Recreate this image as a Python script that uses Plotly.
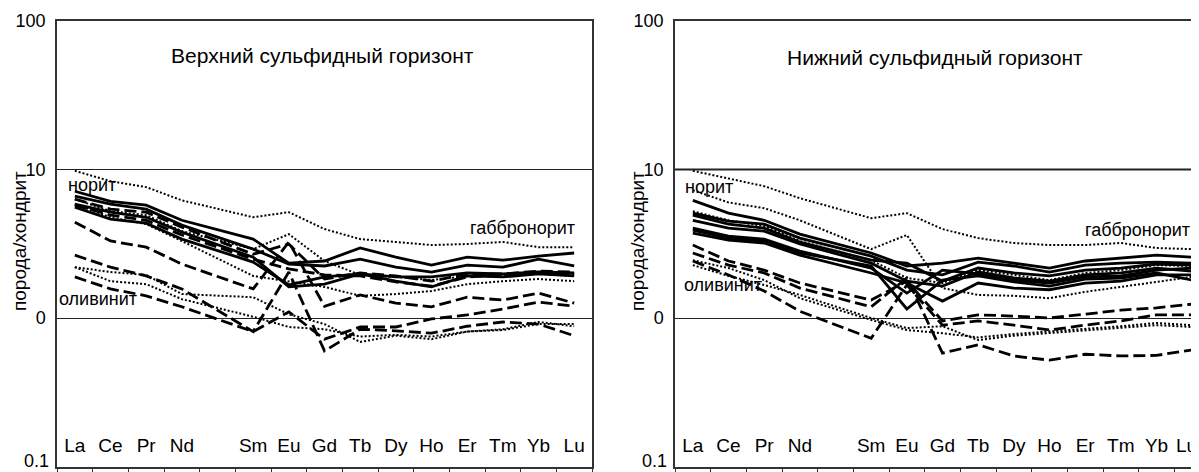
import math
import plotly.graph_objects as go

# ---------------- data ----------------
ree_order = ["La", "Ce", "Pr", "Nd", "Pm", "Sm", "Eu", "Gd", "Tb", "Dy", "Ho", "Er", "Tm", "Yb", "Lu"]
elements = ["La", "Ce", "Pr", "Nd", "Sm", "Eu", "Gd", "Tb", "Dy", "Ho", "Er", "Tm", "Yb", "Lu"]
y_tick_vals = [1, 10, 100]
y_tick_text = ["0", "10", "100"]
y_bottom_val = 0.1
y_bottom_text = "0.1"

title_upper = "Верхний сульфидный горизонт"
title_lower = "Нижний сульфидный горизонт"
y_title = "порода/хондрит"

# Upper sulfide horizon (left panel)
up_dot_1 = [9.8, 8.34, 7.61, 6.2, 4.77, 5.16, 3.97, 3.40, 3.25, 3.10, 3.15, 3.25, 3.0, 3.0]
up_dot_2 = [6.31, 5.24, 4.93, 3.85, 2.91, 3.67, 2.42, 1.95, 1.89, 1.80, 1.92, 1.95, 1.98, 1.92]
up_dot_3 = [5.84, 4.77, 4.29, 3.30, 1.92, 1.77, 1.62, 1.41, 1.45, 1.52, 1.69, 1.77, 1.83, 1.77]
up_dot_4 = [2.20, 2.04, 1.95, 1.45, 1.38, 1.06, 0.91, 0.69, 0.76, 0.72, 0.81, 0.84, 0.94, 0.88]
up_dot_5 = [2.20, 1.77, 1.69, 1.34, 1.02, 0.87, 0.84, 0.75, 0.77, 0.75, 0.81, 0.83, 0.91, 0.91]
up_sol_1 = [7.14, 6.11, 5.75, 4.55, 3.40, 2.34, 2.42, 2.96, 2.57, 2.27, 2.57, 2.45, 2.61, 2.74]
up_sol_2 = [6.61, 5.84, 5.41, 4.22, 2.91, 2.31, 2.24, 2.49, 2.20, 2.04, 2.27, 2.20, 2.49, 2.24]
up_sol_3 = [5.84, 5.16, 4.77, 3.79, 2.57, 1.62, 1.69, 1.98, 1.77, 1.62, 1.92, 1.89, 1.98, 1.92]
up_sol_4 = [5.57, 4.63, 4.35, 3.40, 2.38, 1.67, 1.89, 1.98, 1.89, 1.89, 2.01, 1.98, 2.04, 2.01]
up_dash_1 = [6.31, 5.41, 5.16, 4.09, 2.69, 3.15, 1.83, 2.01, 1.92, 1.77, 1.98, 1.98, 2.07, 2.04]
up_dash_2 = [5.75, 4.93, 4.55, 3.62, 2.49, 2.14, 1.95, 1.92, 1.75, 1.64, 1.89, 1.95, 2.01, 1.98]
up_dash_3 = [4.42, 3.30, 3.00, 2.31, 1.57, 3.25, 1.20, 1.43, 1.26, 1.19, 1.38, 1.32, 1.47, 1.26]
up_dash_4 = [2.65, 2.20, 1.92, 1.57, 0.81, 2.04, 0.60, 0.84, 0.82, 0.79, 0.88, 0.94, 0.91, 0.76]
up_dash_5 = [1.89, 1.57, 1.41, 1.19, 0.81, 1.10, 0.72, 0.87, 0.87, 0.985, 1.05, 1.15, 1.28, 1.20]

# Lower sulfide horizon (right panel)
lo_dot_1 = [9.8, 8.74, 7.72, 6.41, 4.70, 5.08, 3.97, 3.45, 3.20, 3.10, 3.10, 3.20, 2.96, 2.91]
lo_dot_2 = [7.25, 6.0, 5.49, 4.55, 2.91, 3.62, 1.59, 1.43, 1.41, 1.36, 1.50, 1.62, 1.77, 1.89]
lo_dot_3 = [5.24, 4.55, 4.15, 3.30, 2.45, 1.86, 1.72, 2.10, 1.95, 1.80, 2.01, 2.10, 2.27, 2.24]
lo_dot_4 = [2.27, 1.92, 1.67, 1.43, 1.0, 0.855, 0.88, 0.71, 0.76, 0.79, 0.83, 0.855, 0.895, 0.87]
lo_dot_5 = [2.45, 2.17, 1.80, 1.36, 0.97, 0.83, 0.79, 0.74, 0.78, 0.81, 0.84, 0.88, 0.925, 0.895]
lo_sol_1 = [6.2, 5.08, 4.55, 3.67, 2.74, 2.24, 2.34, 2.53, 2.34, 2.17, 2.42, 2.53, 2.65, 2.57]
lo_sol_2 = [5.08, 4.49, 4.29, 3.45, 2.61, 2.10, 1.95, 2.38, 2.24, 2.04, 2.27, 2.34, 2.38, 2.34]
lo_sol_3 = [4.93, 4.29, 4.03, 3.25, 2.45, 2.34, 1.77, 2.17, 2.01, 1.92, 2.10, 2.17, 2.31, 2.27]
lo_sol_4 = [4.55, 4.03, 3.85, 3.15, 2.34, 1.77, 1.64, 2.04, 1.86, 1.77, 1.95, 2.01, 2.17, 2.07]
lo_sol_5 = [4.03, 3.56, 3.40, 2.82, 2.17, 1.47, 2.10, 1.98, 1.80, 1.72, 1.89, 1.92, 2.10, 2.17]
lo_sol_6 = [3.73, 3.35, 3.20, 2.65, 2.01, 1.72, 1.30, 1.72, 1.59, 1.55, 1.72, 1.77, 1.95, 1.95]
lo_sol_7 = [3.91, 3.45, 3.30, 2.74, 2.24, 1.15, 1.80, 1.92, 1.75, 1.64, 1.83, 1.86, 2.01, 1.80]
lo_dash_1 = [3.10, 2.42, 2.10, 1.72, 1.32, 1.77, 0.955, 1.05, 1.03, 1.0, 1.06, 1.13, 1.17, 1.24]
lo_dash_2 = [2.74, 2.27, 2.01, 1.59, 1.19, 1.86, 0.58, 0.66, 0.555, 0.52, 0.57, 0.555, 0.56, 0.61]
lo_dash_3 = [2.42, 1.95, 1.52, 1.11, 0.73, 1.67, 0.895, 0.955, 0.895, 0.83, 0.895, 0.955, 1.05, 1.05]

upper_dotted = [up_dot_1, up_dot_2, up_dot_3, up_dot_4, up_dot_5]
upper_solid = [up_sol_1, up_sol_2, up_sol_3, up_sol_4]
upper_dashed = [up_dash_1, up_dash_2, up_dash_3, up_dash_4, up_dash_5]
lower_dotted = [lo_dot_1, lo_dot_2, lo_dot_3, lo_dot_4, lo_dot_5]
lower_solid = [lo_sol_1, lo_sol_2, lo_sol_3, lo_sol_4, lo_sol_5, lo_sol_6, lo_sol_7]
lower_dashed = [lo_dash_1, lo_dash_2, lo_dash_3]

# ---------------- figure ----------------
# The page body has an 8px margin, so the figure is drawn 8px smaller and all
# layout positions below are given in window pixels, then shifted.
OFF = 8
W, H = 1199 - OFF, 472 - OFF
FONT = "Liberation Sans, Arial, sans-serif"


def px(xw):
    return (xw - OFF) / W


def py(yw):
    return 1 - (yw - OFF) / H


x_pos = [ree_order.index(e) for e in elements]

styles = {
    "solid": dict(color="black", width=2.8, dash="solid"),
    "dash": dict(color="black", width=2.8, dash="12px,5px"),
    "dot": dict(color="black", width=2.0, dash="2px,2px"),
}

fig = go.Figure()


def add_group(group, style, xa, ya):
    for s in group:
        fig.add_trace(go.Scatter(x=x_pos, y=s, mode="lines", line=styles[style],
                                 xaxis=xa, yaxis=ya, showlegend=False, hoverinfo="skip"))


add_group(upper_dotted, "dot", "x", "y")
add_group(upper_dashed, "dash", "x", "y")
add_group(upper_solid, "solid", "x", "y")
add_group(lower_dotted, "dot", "x2", "y2")
add_group(lower_dashed, "dash", "x2", "y2")
add_group(lower_solid, "solid", "x2", "y2")

slot = 535 / 15.0
left_dom = [px(57), px(592)]
right_dom = [px(675), 1.0]
right_max = -0.5 + (1199 - 675) / slot
y_dom = [py(466.5), py(21)]
CAT_FONT = dict(family=FONT, size=19, color="black")
YT_FONT = dict(family=FONT, size=18, color="black")

xaxis_common = dict(
    tickmode="array", tickvals=x_pos, ticktext=elements,
    ticks="", ticklabelposition="inside", ticklabelstandoff=12,
    tickfont=CAT_FONT,
    showline=True, linecolor="#333", linewidth=1.5,
    showgrid=False, zeroline=False, automargin=False,
    minor=dict(tick0=0.5, dtick=1, ticks="outside", ticklen=6,
               tickcolor="#333", tickwidth=1, showgrid=False),
)
yaxis_common = dict(
    type="log", range=[-1, 2], domain=y_dom,
    tickmode="array", tickvals=y_tick_vals, ticktext=y_tick_text,
    ticks="", ticklabelstandoff=6, ticklabeloverflow="allow",
    tickfont=YT_FONT,
    showgrid=True, gridcolor="#222", gridwidth=1,
    showline=True, linecolor="#333", linewidth=1.5, zeroline=False,
    automargin=False,
)

fig.update_layout(
    width=W, height=H, margin=dict(l=0, r=0, t=0, b=0, pad=0),
    paper_bgcolor="white", plot_bgcolor="white",
    xaxis=dict(xaxis_common, domain=left_dom, range=[-0.5, 14.5], anchor="y", mirror=True),
    yaxis=dict(yaxis_common, anchor="x", mirror=True),
    xaxis2=dict(xaxis_common, domain=right_dom, range=[-0.5, right_max], anchor="y2", mirror=True),
    yaxis2=dict(yaxis_common, anchor="x2", mirror=False),
    font=dict(family=FONT, color="black"),
)

# thicker reference line at 10 in the right panel
fig.add_shape(type="line", xref="x2 domain", yref="y2", x0=0, x1=1, y0=10, y1=10,
              line=dict(color="#222", width=2.2))

# bottom tick label of each y axis (raised a little so it stays inside the page)
for yref, axis_x in (("y", 57), ("y2", 675)):
    fig.add_annotation(text=y_bottom_text, x=px(axis_x - 6), xref="paper",
                       y=math.log10(y_bottom_val), yref=yref, yshift=6,
                       showarrow=False, xanchor="right", yanchor="middle", font=YT_FONT)

# last category label of the right panel sits against the page edge, as in the original
fig.add_annotation(text=elements[-1], x=1.0, xref="paper", y=py(445), yref="paper",
                   showarrow=False, xanchor="right", yanchor="middle", font=CAT_FONT)

ann = [
    dict(text=title_upper, x=322, y=56, size=21),
    dict(text=title_lower, x=935, y=58, size=21),
    dict(text="норит", x=92, y=185, size=18),
    dict(text="оливинит", x=98, y=299, size=18),
    dict(text="габбронорит", x=522, y=228, size=18),
    dict(text="норит", x=709, y=187, size=18),
    dict(text="оливинит", x=723, y=285, size=18),
    dict(text="габбронорит", x=1137, y=230, size=18),
]
for a in ann:
    fig.add_annotation(text=a["text"], x=px(a["x"]), y=py(a["y"]), xref="paper", yref="paper",
                       showarrow=False, xanchor="center", yanchor="middle",
                       font=dict(family=FONT, size=a["size"], color="black"))

for xc in (19, 637):
    fig.add_annotation(text=y_title, x=px(xc), y=py(241), xref="paper", yref="paper",
                       showarrow=False, textangle=-90, xanchor="center", yanchor="middle",
                       font=dict(family=FONT, size=19, color="black"))

fig.write_html("out.html", config={"displayModeBar": False})
